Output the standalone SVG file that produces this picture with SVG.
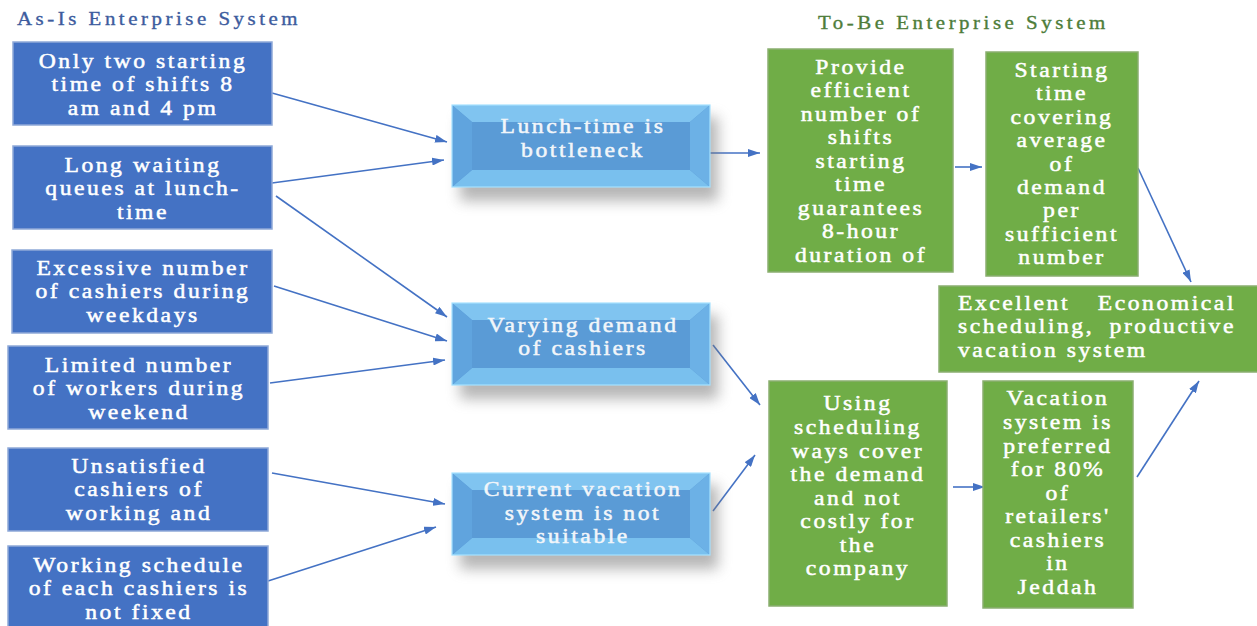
<svg xmlns="http://www.w3.org/2000/svg" width="1257" height="626" viewBox="0 0 1257 626">
  <style>
    text { font-family: "Liberation Serif", "Times New Roman", serif; transform-box: fill-box; }
    .title { font-size: 19px; letter-spacing: 3.2px; stroke-width: 0.35px; transform-origin: left center; transform: scaleX(1.1); }
    .t-asis { fill: #3D5C9E; stroke: #3D5C9E; }
    .t-tobe { fill: #4E7D3A; stroke: #4E7D3A; }
    .lbl, .lbl-l, .lbl-r, .mid { font-size: 21.5px; letter-spacing: 2.3px; fill: #FFFFFF; stroke: #FFFFFF; stroke-width: 0.5px; transform: scaleX(1.1); }
    .lbl, .mid { text-anchor: middle; transform-origin: center; }
    .lbl-l { transform-origin: left center; }
    .lbl-r { text-anchor: end; transform-origin: right center; }
    .mid { fill: #F2F6FA; stroke: #F2F6FA; }
    .asis { fill: #4472C4; stroke: #8FA9D8; stroke-width: 1.5; }
    .tobe { fill: #70AD47; stroke: #8AAE70; stroke-width: 1.5; }
    .bev-c { fill: #5A9BD6; }
    .bev-t { fill: #80C4F0; }
    .bev-b { fill: #79C0EE; }
    .bev-l { fill: #60A4DE; }
    .bev-r { fill: #6CB1E6; }
    .bev-edge { fill: none; stroke: #A6E2FF; stroke-width: 1.2; }
    .shadow { fill: #7a7a7a; opacity: 0.55; filter: url(#blur); }
    .conn { stroke: #4472C4; stroke-width: 1.6; fill: none; marker-end: url(#arrow); }
  </style>
  <defs>
    <filter id="blur" x="-20%" y="-40%" width="140%" height="180%">
      <feGaussianBlur stdDeviation="7"/>
    </filter>
    <marker id="arrow" viewBox="0 0 12 8" refX="12" refY="4" markerWidth="12" markerHeight="8" markerUnits="userSpaceOnUse" orient="auto">
      <path d="M0,0 L12,4 L0,8 z" fill="#4472C4"/>
    </marker>
  </defs>

  <rect width="1257" height="626" fill="#FFFFFF"/>

  <!-- section headings -->
  <text class="title t-asis" x="17" y="25">As-Is Enterprise System</text>
  <text class="title t-tobe" x="818" y="29">To-Be Enterprise System</text>

  <!-- connectors -->
  <g id="connectors">
    <path class="conn" d="M272,93 L447,142"/>
    <path class="conn" d="M272,183 L444,160"/>
    <path class="conn" d="M276,196 L447,317"/>
    <path class="conn" d="M274,286 L447,341"/>
    <path class="conn" d="M270,383 L445,360"/>
    <path class="conn" d="M272,473 L445,504"/>
    <path class="conn" d="M268,581 L436,527"/>
    <path class="conn" d="M710,153 L760,153"/>
    <path class="conn" d="M713,345 L760,405"/>
    <path class="conn" d="M713,511 L755,455"/>
    <path class="conn" d="M955,167 L982,167"/>
    <path class="conn" d="M1138,168 L1191,282"/>
    <path class="conn" d="M953,487 L985,487"/>
    <path class="conn" d="M1137,477 L1199,381"/>
  </g>

  <!-- as-is problems -->
  <g id="asis-shifts">
    <rect class="asis" x="13" y="42" width="259" height="83"/>
    <text class="lbl" x="143" y="68">Only two starting</text>
    <text class="lbl" x="143" y="91.5">time of shifts 8</text>
    <text class="lbl" x="143" y="115">am and 4 pm</text>
  </g>
  <g id="asis-queues">
    <rect class="asis" x="13" y="146" width="259" height="83"/>
    <text class="lbl" x="143" y="172">Long waiting</text>
    <text class="lbl" x="143" y="195.5">queues at lunch-</text>
    <text class="lbl" x="143" y="219">time</text>
  </g>
  <g id="asis-excessive">
    <rect class="asis" x="12" y="250" width="260" height="83"/>
    <text class="lbl" x="143" y="275">Excessive number</text>
    <text class="lbl" x="143" y="298.5">of cashiers during</text>
    <text class="lbl" x="143" y="322">weekdays</text>
  </g>
  <g id="asis-limited">
    <rect class="asis" x="8" y="346" width="260" height="83"/>
    <text class="lbl" x="139" y="372">Limited number</text>
    <text class="lbl" x="139" y="395.5">of workers during</text>
    <text class="lbl" x="139" y="419">weekend</text>
  </g>
  <g id="asis-unsatisfied">
    <rect class="asis" x="8" y="448" width="260" height="83"/>
    <text class="lbl" x="139" y="473">Unsatisfied</text>
    <text class="lbl" x="139" y="496.5">cashiers of</text>
    <text class="lbl" x="139" y="520">working and</text>
  </g>
  <g id="asis-schedule">
    <rect class="asis" x="8" y="546" width="260" height="90"/>
    <text class="lbl" x="139" y="572">Working schedule</text>
    <text class="lbl" x="139" y="595.5">of each cashiers is</text>
    <text class="lbl" x="139" y="619">not fixed</text>
  </g>

  <!-- root causes (bevelled) -->
  <g id="cause-lunch">
    <rect class="shadow" x="460" y="117" width="258" height="84"/>
    <rect class="bev-c" x="452" y="105" width="258" height="82"/>
    <polygon class="bev-t" points="452,105 710,105 690,122 472,122"/>
    <polygon class="bev-b" points="452,187 710,187 690,170 472,170"/>
    <polygon class="bev-l" points="452,105 472,122 472,170 452,187"/>
    <polygon class="bev-r" points="710,105 690,122 690,170 710,187"/>
    <rect class="bev-edge" x="452" y="105" width="258" height="82"/>
    <text class="mid" x="583" y="133">Lunch-time is</text>
    <text class="mid" x="583" y="157">bottleneck</text>
  </g>
  <g id="cause-demand">
    <rect class="shadow" x="460" y="315" width="258" height="84"/>
    <rect class="bev-c" x="452" y="303" width="258" height="82"/>
    <polygon class="bev-t" points="452,303 710,303 690,320 472,320"/>
    <polygon class="bev-b" points="452,385 710,385 690,368 472,368"/>
    <polygon class="bev-l" points="452,303 472,320 472,368 452,385"/>
    <polygon class="bev-r" points="710,303 690,320 690,368 710,385"/>
    <rect class="bev-edge" x="452" y="303" width="258" height="82"/>
    <text class="mid" x="583" y="332">Varying demand</text>
    <text class="mid" x="583" y="355">of cashiers</text>
  </g>
  <g id="cause-vacation">
    <rect class="shadow" x="460" y="485" width="258" height="84"/>
    <rect class="bev-c" x="452" y="473" width="258" height="82"/>
    <polygon class="bev-t" points="452,473 710,473 690,490 472,490"/>
    <polygon class="bev-b" points="452,555 710,555 690,538 472,538"/>
    <polygon class="bev-l" points="452,473 472,490 472,538 452,555"/>
    <polygon class="bev-r" points="710,473 690,490 690,538 710,555"/>
    <rect class="bev-edge" x="452" y="473" width="258" height="82"/>
    <text class="mid" x="583" y="496">Current vacation</text>
    <text class="mid" x="583" y="520">system is not</text>
    <text class="mid" x="583" y="543">suitable</text>
  </g>

  <!-- to-be solutions -->
  <g id="tobe-shifts">
    <rect class="tobe" x="768" y="49" width="185" height="223"/>
    <text class="lbl" x="861" y="74">Provide</text>
    <text class="lbl" x="861" y="97.5">efficient</text>
    <text class="lbl" x="861" y="121">number of</text>
    <text class="lbl" x="861" y="144.5">shifts</text>
    <text class="lbl" x="861" y="168">starting</text>
    <text class="lbl" x="861" y="191.5">time</text>
    <text class="lbl" x="861" y="215">guarantees</text>
    <text class="lbl" x="861" y="238.5">8-hour</text>
    <text class="lbl" x="861" y="262">duration of</text>
  </g>
  <g id="tobe-starting">
    <rect class="tobe" x="986" y="52" width="152" height="224"/>
    <text class="lbl" x="1062" y="77">Starting</text>
    <text class="lbl" x="1062" y="100.5">time</text>
    <text class="lbl" x="1062" y="124">covering</text>
    <text class="lbl" x="1062" y="147.5">average</text>
    <text class="lbl" x="1062" y="171">of</text>
    <text class="lbl" x="1062" y="194">demand</text>
    <text class="lbl" x="1062" y="217.5">per</text>
    <text class="lbl" x="1062" y="241">sufficient</text>
    <text class="lbl" x="1062" y="264">number</text>
  </g>
  <g id="tobe-outcome">
    <rect class="tobe" x="939" y="286" width="322" height="86"/>
    <text class="lbl-l" x="958" y="310">Excellent</text>
    <text class="lbl-r" x="1236" y="310">Economical</text>
    <text class="lbl-l" x="958" y="333.5">scheduling,</text>
    <text class="lbl-r" x="1236" y="333.5">productive</text>
    <text class="lbl-l" x="958" y="357">vacation system</text>
  </g>
  <g id="tobe-scheduling">
    <rect class="tobe" x="769" y="381" width="178" height="225"/>
    <text class="lbl" x="858" y="410">Using</text>
    <text class="lbl" x="858" y="434">scheduling</text>
    <text class="lbl" x="858" y="458">ways cover</text>
    <text class="lbl" x="858" y="481">the demand</text>
    <text class="lbl" x="858" y="505">and not</text>
    <text class="lbl" x="858" y="528">costly for</text>
    <text class="lbl" x="858" y="552">the</text>
    <text class="lbl" x="858" y="575">company</text>
  </g>
  <g id="tobe-vacation">
    <rect class="tobe" x="983" y="381" width="150" height="227"/>
    <text class="lbl" x="1058" y="405">Vacation</text>
    <text class="lbl" x="1058" y="429">system is</text>
    <text class="lbl" x="1058" y="453">preferred</text>
    <text class="lbl" x="1058" y="476">for 80%</text>
    <text class="lbl" x="1058" y="500">of</text>
    <text class="lbl" x="1058" y="523">retailers'</text>
    <text class="lbl" x="1058" y="547">cashiers</text>
    <text class="lbl" x="1058" y="570">in</text>
    <text class="lbl" x="1058" y="594">Jeddah</text>
  </g>
</svg>
